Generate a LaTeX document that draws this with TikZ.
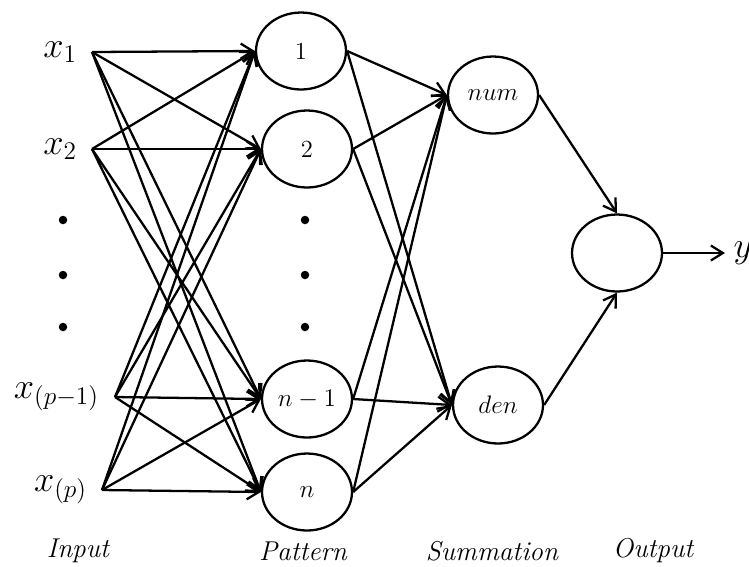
\documentclass[tikz,border=0pt]{standalone}
\usetikzlibrary{shapes, arrows.meta, positioning}
\newcommand{\wire}[2]
{
	\draw[->] (#1) -- (#2)
}

\begin{document}
\begin{tikzpicture}[x=0.02cm, y=-0.02cm,
	line width=1.3pt,
	>={Straight Barb[length=2.4mm,width=3mm]},
	unit/.style={shape=ellipse, draw=black, minimum width=1.8cm,
		minimum height=1.54cm, inner sep=0pt, font=\fontsize{14}{16}\selectfont},
	dot/.style={shape=circle, fill=black, inner sep=0pt, minimum size=1.7mm},
	invar/.style={font=\fontsize{20}{22}\selectfont, inner sep=0pt},
	layer/.style={font=\fontsize{15.5}{17}\selectfont\itshape, inner sep=0pt}]

	\useasboundingbox (0,0) rectangle (749,566);

	% input layer
	\coordinate (I1) at (92, 52);
	\coordinate (I2) at (92, 149);
	\coordinate (Ip1) at (115, 397);
	\coordinate (Ip) at (102, 490);
	\node[invar, left=0.28cm of I1] (X1){$x_1$};
	\node[invar, left=0.28cm of I2] (X2){$x_2$};
	\node[invar, left=0.3cm of Ip1] (Xp1){$x_{(p-1)}$};
	\node[invar, left=0.28cm of Ip] (Xp){$x_{(p)}$};
	\node[dot] at (63, 220) (ID1){};
	\node[dot] at (63, 275) (ID2){};
	\node[dot] at (63, 327) (ID3){};

	% pattern layer
	\node[unit] at (301, 51) (P1){1};
	\node[unit] at (307, 149) (P2){2};
	\node[unit] at (307, 399) (Pn1){$n-1$};
	\node[unit] at (307, 492) (Pn){$n$};
	\node[dot] at (305, 220) (PD1){};
	\node[dot] at (305, 275) (PD2){};
	\node[dot] at (305, 327) (PD3){};

	% summation and output
	\node[unit] at (493, 95) (S1){$num$};
	\node[unit] at (498, 405) (S2){$den$};
	\node[unit] at (617, 253) (O){};
	\coordinate (Y) at (725, 253);
	\node[invar, right=0.15cm of Y] (YL){$y$};

	\wire{I1}{P1.west};
	\wire{I1}{P2.west};
	\wire{I1}{Pn1.west};
	\wire{I1}{Pn.west};
	\wire{I2}{P1.west};
	\wire{I2}{P2.west};
	\wire{I2}{Pn1.west};
	\wire{I2}{Pn.west};
	\wire{Ip1}{P1.west};
	\wire{Ip1}{P2.west};
	\wire{Ip1}{Pn1.west};
	\wire{Ip1}{Pn.west};
	\wire{Ip}{P1.west};
	\wire{Ip}{P2.west};
	\wire{Ip}{Pn1.west};
	\wire{Ip}{Pn.west};

	\wire{P1.east}{S1.west};
	\wire{P1.east}{S2.west};
	\wire{P2.east}{S1.west};
	\wire{P2.east}{S2.west};
	\wire{Pn1.east}{S1.west};
	\wire{Pn1.east}{S2.west};
	\wire{Pn.east}{S1.west};
	\wire{Pn.east}{S2.west};

	\wire{S1.east}{O.north};
	\wire{S2.east}{O.south};
	\wire{O.east}{Y};

	% layer names
	\node[layer] at (78, 551) (LI){Input};
	\node[layer] at (303, 551) (LP){Pattern};
	\node[layer] at (492, 551) (LS){Summation};
	\node[layer] at (653, 551) (LO){Output};
\end{tikzpicture}
\end{document}
